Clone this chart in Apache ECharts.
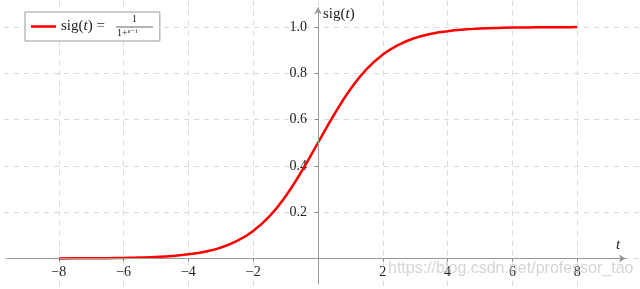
<!DOCTYPE html>
<html><head><meta charset="utf-8">
<script src="https://cdn.jsdelivr.net/npm/echarts@6/dist/echarts.min.js"></script>
<style>html,body{margin:0;padding:0;background:#fff}#c{width:640px;height:289px}</style>
</head><body><div id="c"></div>
<script>
// data
const tValues = [-8,-7.5,-7,-6.5,-6,-5.5,-5,-4.5,-4,-3.5,-3,-2.5,-2,-1.5,-1,-0.5,0,0.5,1,1.5,2,2.5,3,3.5,4,4.5,5,5.5,6,6.5,7,7.5,8];
const sigValues = [0.0003,0.0006,0.0009,0.0015,0.0025,0.0041,0.0067,0.011,0.018,0.029,0.047,0.076,0.119,0.182,0.269,0.378,0.5,0.622,0.731,0.818,0.881,0.924,0.953,0.971,0.982,0.989,0.993,0.996,0.998,0.998,0.999,0.999,1.0];
const xTickLabels = [-8,-6,-4,-2,2,4,6,8];
const yTickLabels = [0.2,0.4,0.6,0.8,1.0];
const seriesName = 'sig(t)';

const serif = 'Liberation Serif';
const chart = echarts.init(document.getElementById('c'));
const gridLine = {show:true, lineStyle:{color:'#dadada', type:[5,5], width:1}};
chart.setOption({
  animation:false,
  grid:{left:-6, right:-2, top:-19.3, bottom:-15.8, containLabel:false, outerBoundsMode:'none'},
  xAxis:{type:'value', min:-10, max:10, interval:2, position:'bottom', offset:0,
    axisLine:{show:false, onZero:false},
    axisTick:{show:true, length:3, lineStyle:{color:'#888'}},
    splitLine:gridLine,
    axisLabel:{margin:7, fontFamily:serif, fontSize:14, color:'#222',
      formatter:v=> xTickLabels.indexOf(v)>=0 ? String(v).replace('-','\u2212') : ''}},
  yAxis:{type:'value', min:-0.2, max:1.2, interval:0.2, position:'left', offset:0,
    axisLine:{show:false, onZero:false},
    axisTick:{show:true, length:3, lineStyle:{color:'#888'}},
    splitLine:gridLine,
    axisLabel:{margin:11, fontFamily:serif, fontSize:14, color:'#222',
      formatter:v=> yTickLabels.some(y=>Math.abs(y-v)<1e-9) ? v.toFixed(1) : ''}},
  legend:{left:25, top:12, padding:[7,55,7,6], itemWidth:25, itemHeight:2.5, itemGap:5,
    icon:'rect',
    borderColor:'#999', borderWidth:1, borderRadius:0, backgroundColor:'#fff',
    data:[{name:seriesName}],
    formatter:()=> '{a|sig(}{i|t}{a|) =}',
    textStyle:{rich:{a:{fontFamily:serif, fontSize:15, color:'#222'}, i:{fontFamily:serif, fontStyle:'italic', fontSize:15, color:'#222'}}}},
  series:[{
    name:seriesName, type:'line', smooth:true, symbol:'none',
    lineStyle:{color:'#ff0000', width:2.5}, itemStyle:{color:'#ff0000'},
    data:tValues.map((t,i)=>[t,sigValues[i]]),
    markLine:{silent:true, symbol:['none','arrow'], symbolSize:[6,7],
      label:{show:false},
      lineStyle:{color:'#999', type:'solid', width:1},
      data:[
        [{coord:[-9.6,0]},{coord:[9.5,0]}],
        [{coord:[0,-0.11]},{coord:[0,1.085]}]
      ]}
  }],
  graphic:[
    {type:'text', left:323, top:7, z:10, style:{rich:{a:{fontFamily:serif,fontSize:15,fill:'#222'}, i:{fontFamily:serif,fontStyle:'italic',fontSize:15,fill:'#222'}}, text:'{a|sig(}{i|t}{a|)}'}},
    {type:'text', left:616, top:238, z:10, style:{text:'t', fontFamily:serif, fontStyle:'italic', fontSize:15, fill:'#222'}},
    {type:'text', left:132, top:14, z:10, style:{text:'1', fontFamily:serif, fontSize:10, fill:'#222'}},
    {type:'line', z:10, shape:{x1:116, y1:27, x2:153, y2:27}, style:{stroke:'#222', lineWidth:0.7}},
    {type:'text', left:117, top:28, z:10, style:{rich:{a:{fontFamily:serif,fontSize:10,fill:'#222'}, s:{fontFamily:serif,fontStyle:'italic',fontSize:7,fill:'#222', verticalAlign:'top'}}, text:'{a|1+}{s|e}{s|\u2212t}'}},
    {type:'text', left:388, top:261, z:20, style:{text:'https://blog.csdn.net/professor_tao', fontFamily:'Liberation Sans', fontSize:16, fill:'rgba(195,195,195,0.7)'}}
  ]
});
// move the axes (labels and ticks) to cross at the origin
const origin = chart.convertToPixel({gridIndex:0}, [0,0]);
const rect = chart.getModel().getComponent('grid',0).coordinateSystem.getRect();
chart.setOption({
  xAxis:{offset: origin[1] - (rect.y + rect.height)},
  yAxis:{offset: rect.x - origin[0]}
});
</script></body></html>
